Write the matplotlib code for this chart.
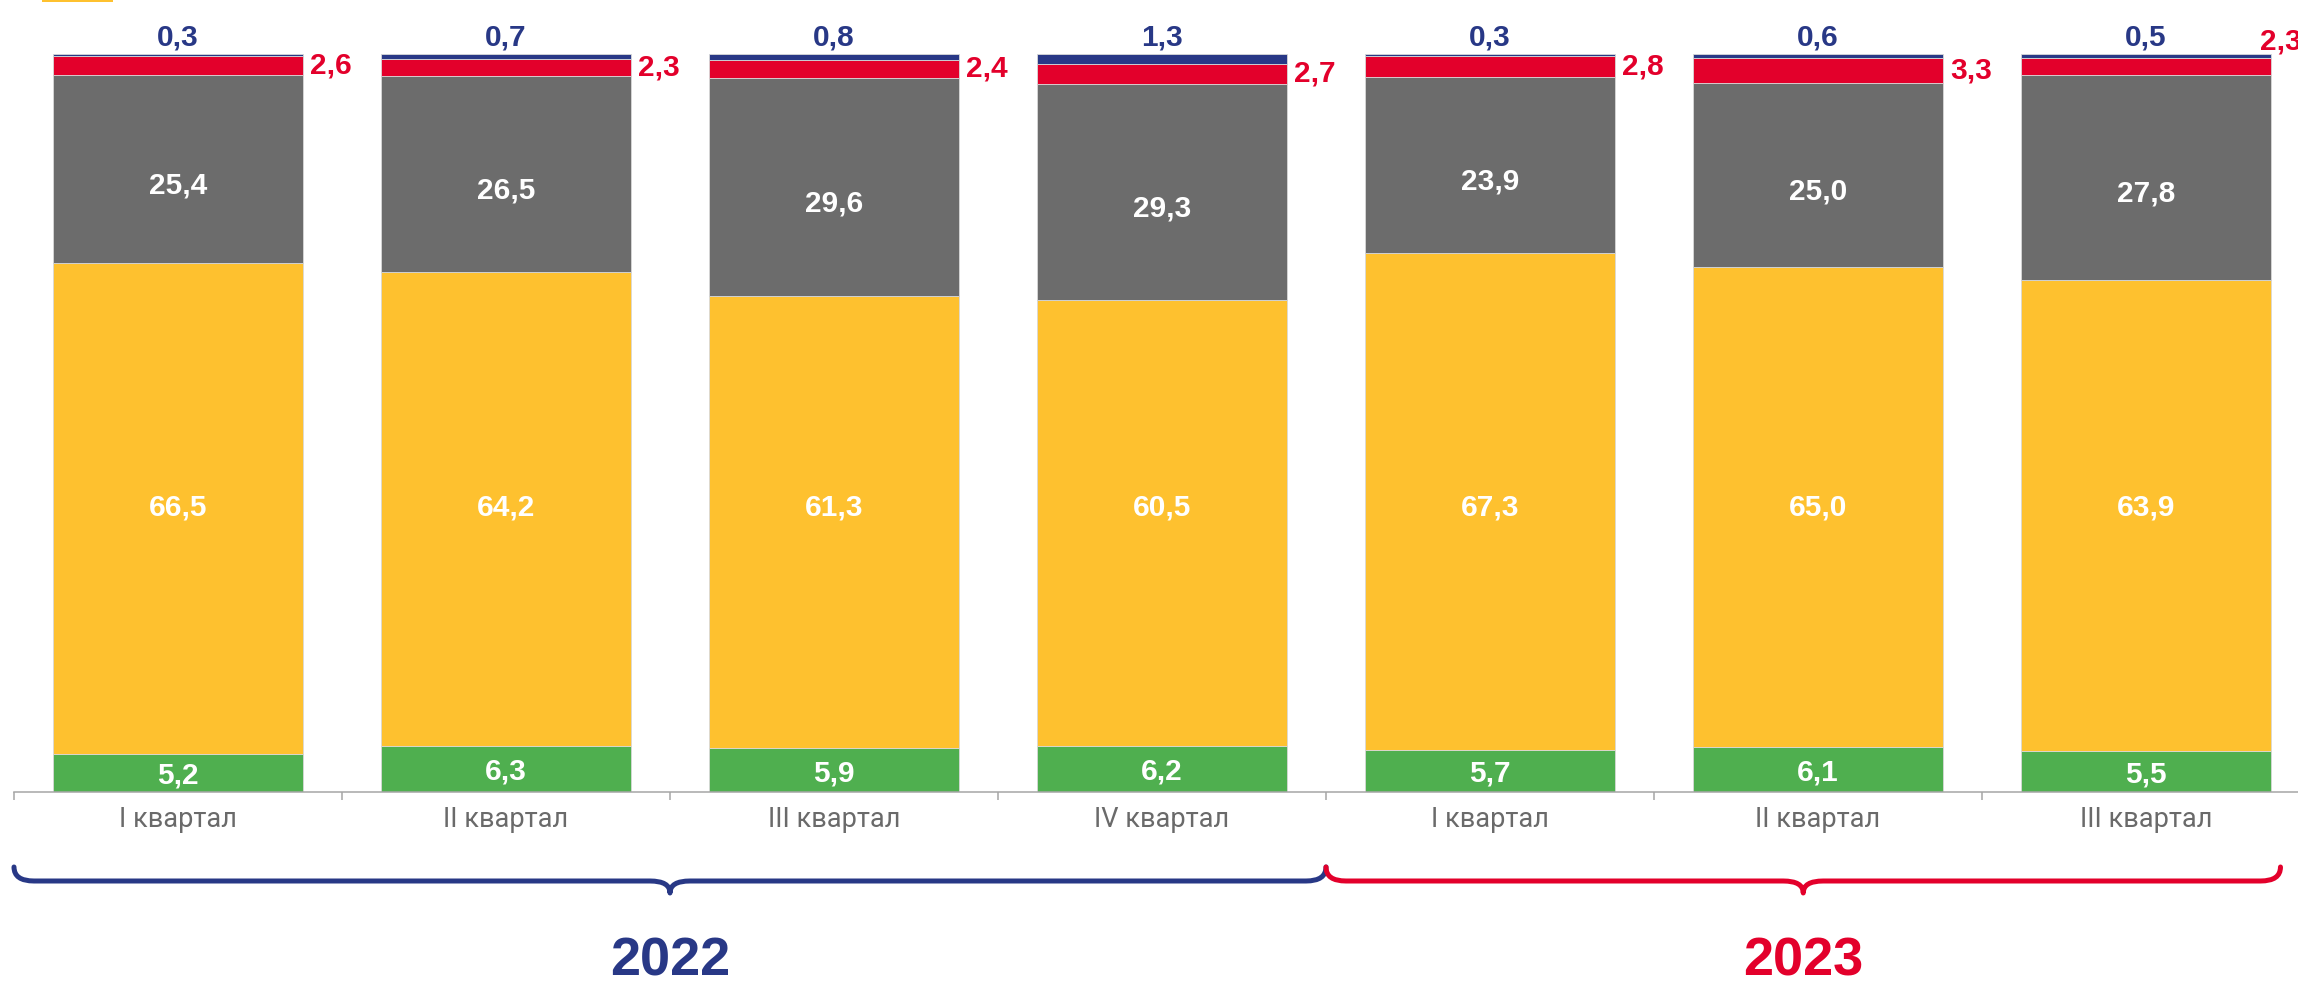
import matplotlib
matplotlib.use("Agg")
import matplotlib.pyplot as plt
from matplotlib.path import Path
from matplotlib.patches import PathPatch, Rectangle
from matplotlib.transforms import IdentityTransform

# ---- data ----
categories = ["I квартал", "II квартал", "III квартал", "IV квартал",
              "I квартал", "II квартал", "III квартал"]
green = [5.2, 6.3, 5.9, 6.2, 5.7, 6.1, 5.5]
yellow = [66.5, 64.2, 61.3, 60.5, 67.3, 65.0, 63.9]
gray = [25.4, 26.5, 29.6, 29.3, 23.9, 25.0, 27.8]
red = [2.6, 2.3, 2.4, 2.7, 2.8, 3.3, 2.3]
blue = [0.3, 0.7, 0.8, 1.3, 0.3, 0.6, 0.5]
years = ["2022", "2023"]

C_GREEN = "#4FAF4F"
C_YELLOW = "#FEC12F"
C_GRAY = "#6C6C6C"
C_RED = "#E3002B"
C_BLUE = "#283886"

W, H = 2298, 983
fig = plt.figure(figsize=(W / 100, H / 100), dpi=100)
ax = fig.add_axes([14 / W, (H - 792) / H, 7 * 328 / W, 738 / H])
ax.set_xlim(-0.5, 6.5)
ax.set_ylim(0, 100)

def fmt(v):
    return f"{v:.1f}".replace(".", ",")

x = list(range(len(categories)))
bw = 250 / 328
bottom = [0.0] * len(x)
series = [(green, C_GREEN), (yellow, C_YELLOW), (gray, C_GRAY), (red, C_RED), (blue, C_BLUE)]
for vals, col in series:
    ax.bar(x, vals, bw, bottom=bottom, color=col, edgecolor="#d8d8d8", linewidth=0.6, zorder=2)
    bottom = [b + v for b, v in zip(bottom, vals)]

vfont = dict(family=["Liberation Sans", "DejaVu Sans"], weight="bold", fontsize=21.5)
YELLOW_LABEL_Y = 38.6   # labels of the large segment sit on one common line
for i in x:
    # green label (centered)
    ax.annotate(fmt(green[i]), (i, green[i] / 2), xytext=(0, -2), textcoords="offset points",
                ha="center", va="center", color="white", zorder=3, **vfont)
    # yellow label on a common line
    ax.annotate(fmt(yellow[i]), (i, YELLOW_LABEL_Y), xytext=(0, 0), textcoords="offset points",
                ha="center", va="center", color="white", zorder=3, **vfont)
    # gray label slightly below centre
    gb = green[i] + yellow[i]
    ax.annotate(fmt(gray[i]), (i, gb + gray[i] / 2), xytext=(0, -12), textcoords="offset points",
                ha="center", va="center", color="white", zorder=3, **vfont)
    b = gb + gray[i]
    rc = b + red[i] / 2
    top = b + red[i] + blue[i]
    if i == len(x) - 1:
        ax.annotate(fmt(red[i]), (i + bw / 2, top), xytext=(-8, 3), textcoords="offset points",
                    ha="left", va="baseline", color=C_RED, annotation_clip=False, **vfont)
    else:
        ax.annotate(fmt(red[i]), (i + bw / 2, rc), xytext=(5, 0), textcoords="offset points",
                    ha="left", va="center", color=C_RED, annotation_clip=False, **vfont)
    ax.annotate(fmt(blue[i]), (i, top), xytext=(0, 6), textcoords="offset points",
                ha="center", va="baseline", color=C_BLUE, annotation_clip=False, **vfont)

# axes styling
for s in ("top", "right", "left"):
    ax.spines[s].set_visible(False)
ax.spines["bottom"].set_color("#A6A6A6")
ax.spines["bottom"].set_linewidth(1.1)
ax.set_yticks([])
ax.set_xticks(x)
ax.set_xticklabels(categories, family=["Roboto", "DejaVu Sans"], fontsize=19.5, color="#6A6A6A")
ax.tick_params(axis="x", which="major", length=0, pad=10)
ax.set_xticks([i - 0.5 for i in range(len(x) + 1)], minor=True)
ax.tick_params(axis="x", which="minor", length=6, width=1.1, color="#A6A6A6")

# braces (display pixel coords)
fig.canvas.draw()
def xpx(d):
    return ax.transData.transform((d, 0))[0]

def brace(x0, x1, xm, color):
    yl, yt, yc, r = H - 881, H - 867, H - 893, 20
    verts = [(x0, yt), (x0, yl), (x0 + r, yl),
             (xm - r, yl), (xm, yl), (xm, yc),
             (xm, yl), (xm + r, yl),
             (x1 - r, yl), (x1, yl), (x1, yt)]
    codes = [Path.MOVETO, Path.CURVE3, Path.CURVE3,
             Path.LINETO, Path.CURVE3, Path.CURVE3,
             Path.CURVE3, Path.CURVE3,
             Path.LINETO, Path.CURVE3, Path.CURVE3]
    p = PathPatch(Path(verts, codes), facecolor="none", edgecolor=color, linewidth=3.6,
                  capstyle="round", joinstyle="round", transform=IdentityTransform())
    fig.patches.append(p)

b0, b1, b2 = xpx(-0.5), xpx(3.5), xpx(6.41)
brace(b0, b1, (b0 + b1) / 2, C_BLUE)
brace(b1, b2, (b1 + b2) / 2, C_RED)

yfont = dict(family=["Liberation Sans", "DejaVu Sans"], weight="bold", fontsize=39)
fig.text((b0 + b1) / 2 / W, 1 - 962 / H, years[0], ha="center", va="center", color=C_BLUE, **yfont)
fig.text((b1 + b2) / 2 / W, 1 - 962 / H, years[1], ha="center", va="center", color=C_RED, **yfont)

# small clipped legend remnant at top-left
fig.patches.append(Rectangle((42 / W, 1 - 2 / H), 71 / W, 4 / H, transform=fig.transFigure,
                             facecolor=C_YELLOW, edgecolor="none"))

fig.savefig("out.png", dpi=100)
